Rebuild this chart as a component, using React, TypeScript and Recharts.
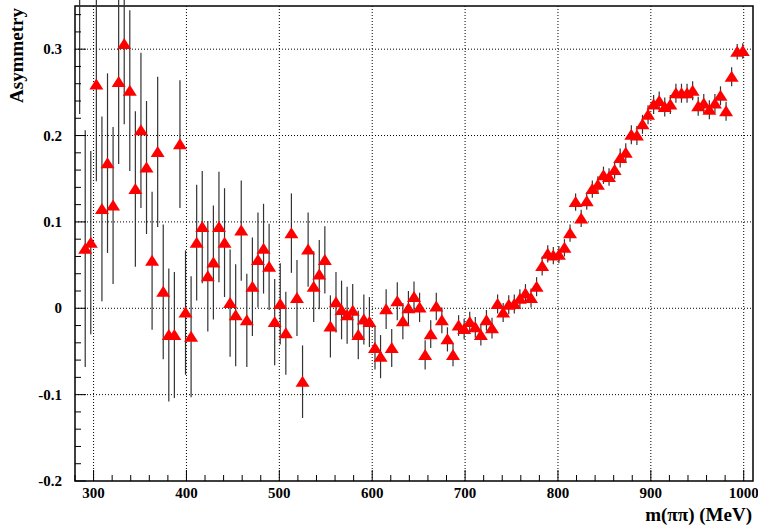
import { ScatterChart, Scatter, XAxis, YAxis, CartesianGrid, ErrorBar, ReferenceArea } from "recharts";

// m(pipi) bin centres, MeV
const mass = [
  285, 291, 297, 303, 309, 315, 321, 327, 333, 339, 345, 351, 357, 363, 369, 375, 381, 387, 393, 399,
  405, 411, 417, 423, 429, 435, 441, 447, 453, 459, 465, 471, 477, 483, 489, 495, 501, 507, 513, 519,
  525, 531, 537, 543, 549, 555, 561, 567, 573, 579, 585, 591, 597, 603, 609, 615, 621, 627, 633, 639,
  645, 651, 657, 663, 669, 675, 681, 687, 693, 699, 705, 711, 717, 723, 729, 735, 741, 747, 753, 759,
  765, 771, 777, 783, 789, 795, 801, 807, 813, 819, 825, 831, 837, 843, 849, 855, 861, 867, 873, 879,
  885, 891, 897, 903, 909, 915, 921, 927, 933, 939, 945, 951, 957, 963, 969, 975, 981, 987, 993, 999,
];

const asym = [
  0.38, 0.069, 0.076, 0.259, 0.115, 0.168, 0.119, 0.262, 0.306, 0.252, 0.138, 0.206, 0.163, 0.055, 0.181, 0.019, -0.031, -0.031, 0.19, -0.005,
  -0.033, 0.076, 0.094, 0.037, 0.053, 0.094, 0.076, 0.006, -0.008, 0.09, -0.014, 0.025, 0.056, 0.069, 0.048, -0.016, 0.005, -0.029, 0.087, 0.012,
  -0.085, 0.068, 0.025, 0.039, 0.056, -0.021, 0.007, -0.002, -0.008, -0.003, -0.031, -0.013, -0.016, -0.046, -0.056, -0.001, -0.046, 0.008, -0.015, 0.0,
  0.013, 0.001, -0.054, -0.03, 0.002, -0.014, -0.036, -0.054, -0.02, -0.024, -0.016, -0.022, -0.031, -0.014, -0.023, 0.005, -0.005, 0.004, 0.005, 0.011,
  0.017, 0.012, 0.025, 0.049, 0.063, 0.061, 0.062, 0.07, 0.087, 0.123, 0.104, 0.124, 0.138, 0.143, 0.154, 0.152, 0.16, 0.174, 0.18, 0.201,
  0.2, 0.213, 0.224, 0.236, 0.24, 0.233, 0.236, 0.249, 0.249, 0.249, 0.252, 0.234, 0.237, 0.23, 0.237, 0.246, 0.228, 0.268, 0.297, 0.298,
];

const asymErr = [
  0.155, 0.137, 0.106, 0.112, 0.107, 0.104, 0.091, 0.095, 0.093, 0.093, 0.09, 0.09, 0.077, 0.08, 0.087, 0.078, 0.077, 0.073, 0.074, 0.072,
  0.07, 0.067, 0.065, 0.064, 0.066, 0.064, 0.063, 0.062, 0.059, 0.058, 0.054, 0.057, 0.055, 0.052, 0.05, 0.05, 0.047, 0.048, 0.046, 0.044,
  0.042, 0.043, 0.041, 0.04, 0.039, 0.036, 0.035, 0.034, 0.033, 0.031, 0.028, 0.029, 0.029, 0.025, 0.025, 0.023, 0.022, 0.022, 0.021, 0.02,
  0.018, 0.017, 0.017, 0.016, 0.016, 0.015, 0.014, 0.013, 0.012, 0.012, 0.012, 0.012, 0.012, 0.012, 0.012, 0.011, 0.011, 0.011, 0.011, 0.011,
  0.011, 0.011, 0.011, 0.011, 0.01, 0.01, 0.01, 0.01, 0.01, 0.01, 0.01, 0.01, 0.01, 0.01, 0.01, 0.01, 0.01, 0.011, 0.011, 0.011,
  0.011, 0.011, 0.011, 0.011, 0.011, 0.011, 0.011, 0.011, 0.011, 0.011, 0.011, 0.011, 0.011, 0.011, 0.011, 0.011, 0.011, 0.011, 0.009, 0.009,
];

const xTicks = [280, 300, 320, 340, 360, 380, 400, 420, 440, 460, 480, 500, 520, 540, 560, 580, 600, 620, 640, 660, 680, 700,
  720, 740, 760, 780, 800, 820, 840, 860, 880, 900, 920, 940, 960, 980, 1000];
const xMajor = [300, 400, 500, 600, 700, 800, 900, 1000];
const yTicks = [-0.2, -0.18, -0.16, -0.14, -0.12, -0.1, -0.08, -0.06, -0.04, -0.02, 0, 0.02, 0.04, 0.06, 0.08, 0.1,
  0.12, 0.14, 0.16, 0.18, 0.2, 0.22, 0.24, 0.26, 0.28, 0.3, 0.32, 0.34];
const yMajor = [-0.2, -0.1, 0, 0.1, 0.2, 0.3];
const yLabels = ["-0.2", "-0.1", "0", "0.1", "0.2", "0.3"];

const points = mass.map((m, i) => ({ m, a: asym[i], err: asymErr[i] }));

const FONT = '"Liberation Serif", "Times New Roman", serif';

const XTick = ({ x, y, payload }: any) => {
  const major = xMajor.includes(payload.value);
  return (
    <g>
      <line x1={x} y1={y} x2={x} y2={y - (major ? 11 : 6)} stroke="#000" />
      {major && (
        <text x={x} y={y + 17} textAnchor="middle" fontFamily={FONT} fontWeight="bold" fontSize={15} fill="#000">
          {payload.value}
        </text>
      )}
    </g>
  );
};

const YTick = ({ x, y, payload }: any) => {
  const idx = yMajor.findIndex((v) => Math.abs(v - payload.value) < 1e-6);
  const major = idx >= 0;
  return (
    <g>
      <line x1={x} y1={y} x2={x + (major ? 11 : 6)} y2={y} stroke="#000" />
      {major && (
        <text x={x - 13} y={y + 5} textAnchor="end" fontFamily={FONT} fontWeight="bold" fontSize={15} fill="#000">
          {yLabels[idx]}
        </text>
      )}
    </g>
  );
};

const Triangle = ({ cx, cy }: any) => (
  <polygon points={`${cx},${cy - 6} ${cx - 7},${cy + 5} ${cx + 7},${cy + 5}`} fill="#ff0000" />
);

const App = () => (
  <div style={{ position: "absolute", left: 0, top: 0, background: "#fff" }}>
    <ScatterChart width={758} height={530} margin={{ top: 6, right: 5, bottom: 0, left: 0 }}>
      <CartesianGrid
        stroke="#000"
        strokeDasharray="1 2"
        verticalValues={xMajor}
        horizontalValues={[-0.1, 0, 0.1, 0.2, 0.3]}
      />
      <XAxis
        type="number"
        dataKey="m"
        domain={[280, 1010]}
        allowDataOverflow
        ticks={xTicks}
        interval={0}
        tickSize={0}
        tickMargin={0}
        height={49}
        axisLine={false}
        tick={<XTick />}
        label={{
          content: () => (
            <text x={752} y={521} textAnchor="end" fontFamily={FONT} fontWeight="bold" fontSize={19} fill="#000">
              m(ππ) (MeV)
            </text>
          ),
        }}
      />
      <YAxis
        type="number"
        dataKey="a"
        domain={[-0.2, 0.35]}
        allowDataOverflow
        ticks={yTicks}
        interval={0}
        tickSize={0}
        tickMargin={0}
        width={75}
        axisLine={false}
        tick={<YTick />}
        label={{
          content: () => (
            <text
              x={23}
              y={8}
              transform="rotate(-90, 23, 8)"
              textAnchor="end"
              fontFamily={FONT}
              fontWeight="bold"
              fontSize={19}
              fill="#000"
            >
              Asymmetry
            </text>
          ),
        }}
      />
      <ReferenceArea x1={280} x2={1010} y1={-0.2} y2={0.35} fill="none" fillOpacity={0} stroke="#000" strokeWidth={1.5} />
      <Scatter data={points} shape={<Triangle />} isAnimationActive={false}>
        <ErrorBar dataKey="err" direction="y" width={0} stroke="#333" strokeWidth={1.2} isAnimationActive={false} />
      </Scatter>
    </ScatterChart>
  </div>
);

export default App;
